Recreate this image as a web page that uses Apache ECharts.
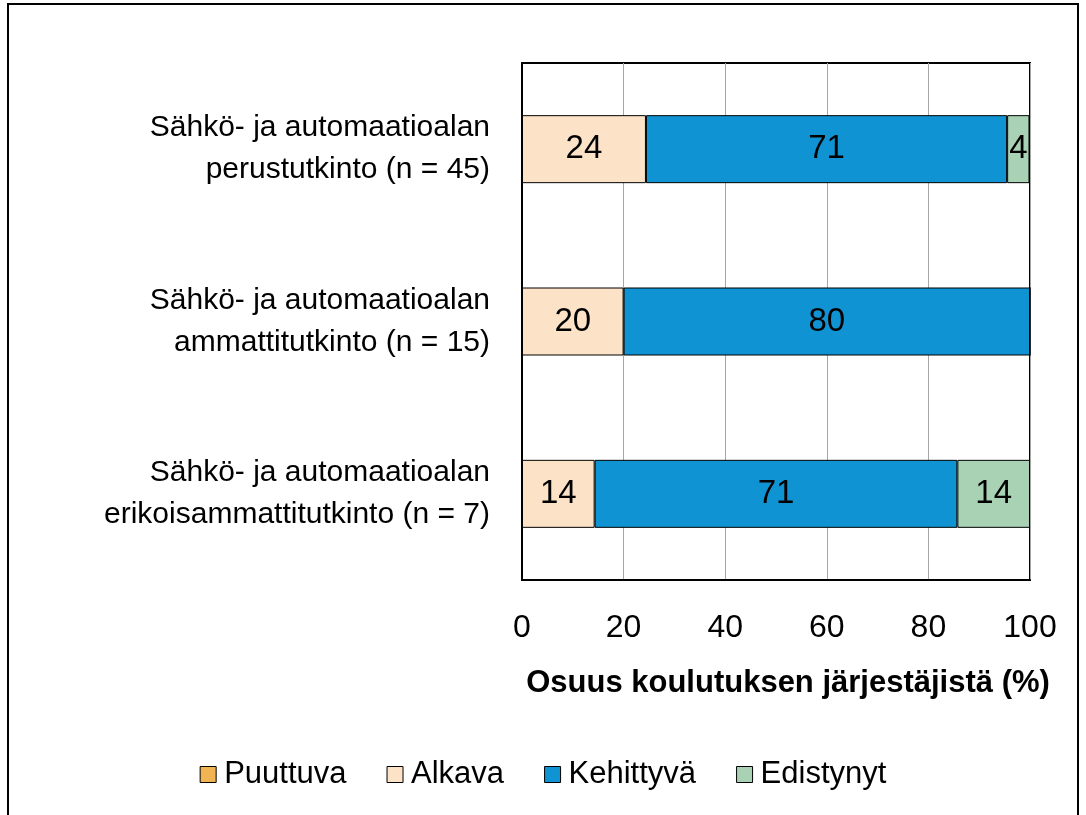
<!DOCTYPE html>
<html><head><meta charset="utf-8">
<script src="https://cdn.jsdelivr.net/npm/echarts@6/dist/echarts.min.js"></script>
<style>html,body{margin:0;padding:0;background:#fff}#c{width:1086px;height:815px}
#frame{position:absolute;left:7px;top:3px;width:1072px;height:820px;border:2px solid #000;box-sizing:border-box;pointer-events:none}</style>
</head><body><div id="c"></div><div id="frame"></div>
<script>
const categories = ["Sähkö- ja automaatioalan\nperustutkinto (n = 45)", "Sähkö- ja automaatioalan\nammattitutkinto (n = 15)", "Sähkö- ja automaatioalan\nerikoisammattitutkinto (n = 7)"];
const seriesNames = ["Puuttuva", "Alkava", "Kehittyvä", "Edistynyt"];
const puuttuva = [0, 0, 0];
const alkava = [24.4, 20.0, 14.3];
const kehittyva = [71.1, 80.0, 71.4];
const edistynyt = [4.4, 0, 14.3];
const xTicks = [0, 20, 40, 60, 80, 100];
const colors = ["#F0B452", "#FCE3C8", "#1093D2", "#A9D2B5"];
const FONT = "'Liberation Sans Narrow', 'Arial Narrow', 'Liberation Sans', sans-serif";
const data = [puuttuva, alkava, kehittyva, edistynyt];
const chart = echarts.init(document.getElementById('c'));
chart.setOption({
  animation: false,
  textStyle: {fontFamily: FONT, color: '#000'},
  grid: {left: 522, right: 56, top: 63, bottom: 235, containLabel: false,
    show: true, borderColor: '#000', borderWidth: 2, backgroundColor: 'transparent'},
  legend: {
    bottom: 20, left: 'center', itemWidth: 16, itemHeight: 16, itemGap: 40, icon: 'rect',
    textStyle: {fontFamily: FONT, fontSize: 31, color: '#000', padding: [0, 0, 0, 3]},
    data: seriesNames.map((n, i) => ({name: n, itemStyle: {color: colors[i], borderColor: '#000', borderWidth: 1}}))
  },
  xAxis: {
    type: 'value', min: 0, max: 100, interval: 20,
    name: 'Osuus koulutuksen järjestäjistä (%)', nameLocation: 'middle', nameGap: 88,
    nameTextStyle: {fontFamily: FONT, fontSize: 31, fontWeight: 'bold', color: '#000', padding: [0, 0, 0, 24]},
    axisLabel: {fontFamily: FONT, fontSize: 32, color: '#000', margin: 32,
      formatter: v => xTicks.includes(v) ? String(v) : ''},
    axisLine: {show: true, lineStyle: {color: '#000', width: 2}},
    axisTick: {show: false},
    splitLine: {show: true, lineStyle: {color: '#A6A6A6', width: 1}}
  },
  yAxis: {
    type: 'category', data: categories, inverse: true,
    axisLabel: {fontFamily: FONT, fontSize: 30, color: '#000', align: 'right', margin: 32, lineHeight: 42},
    axisLine: {show: true, lineStyle: {color: '#000', width: 2}},
    axisTick: {show: false}
  },
  series: seriesNames.map((n, i) => ({
    name: n, type: 'bar', stack: 'total', barWidth: 68,
    data: data[i],
    itemStyle: {color: colors[i], borderColor: '#000', borderWidth: 1},
    label: {show: true, position: 'inside', fontFamily: FONT, fontSize: 33, color: '#000',
      formatter: p => p.value > 0 ? String(Math.round(p.value)) : ''}
  }))
});
</script></body></html>
